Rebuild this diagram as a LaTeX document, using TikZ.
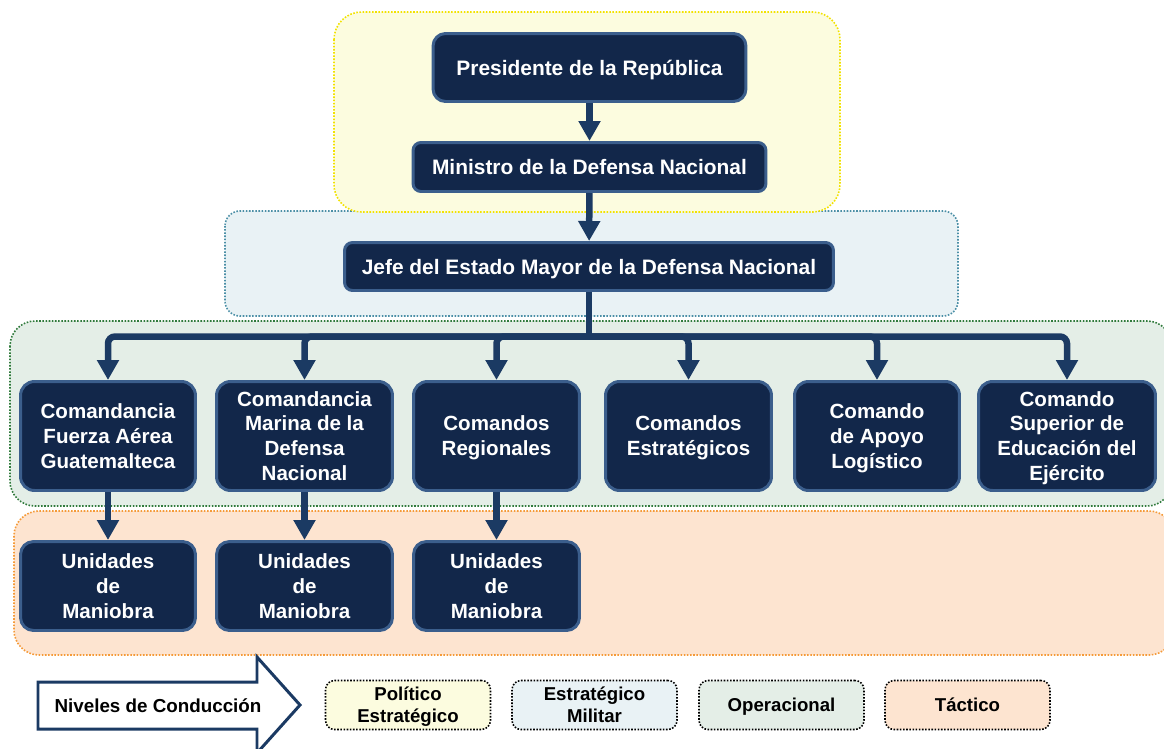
\documentclass[tikz,border=0pt]{standalone}
\usepackage{fontspec}
\setmainfont{Liberation Sans}
\usetikzlibrary{arrows.meta,calc}
\definecolor{navy}{HTML}{12274A}
\definecolor{navyedge}{HTML}{3B5E8C}
\definecolor{conn}{HTML}{1B3A63}
\definecolor{yfill}{HTML}{FCFCDF}
\definecolor{yline}{HTML}{F2E200}
\definecolor{bfill}{HTML}{E9F2F5}
\definecolor{bline}{HTML}{4B8FA6}
\definecolor{gfill}{HTML}{E4EEE7}
\definecolor{gline}{HTML}{2F7A3B}
\definecolor{ofill}{HTML}{FDE4D0}
\definecolor{oline}{HTML}{F59A38}
\begin{document}
\begin{tikzpicture}[x=0.02cm,y=-0.02cm,
  band/.style={line width=0.9pt, dash pattern=on 0.9pt off 0.9pt},
  unit/.style={draw=navyedge, line width=1.7pt, fill=navy, text=white, align=center,
    inner sep=0pt, text depth=0pt, font=\fontsize{11.7}{14.2}\selectfont\bfseries},
  topbox/.style={unit, rounded corners=0.16cm, minimum height=0.98cm,
    font=\fontsize{11.9}{14.2}\selectfont\bfseries},
  cmd/.style={unit, rounded corners=0.28cm, minimum height=2.18cm},
  man/.style={unit, rounded corners=0.26cm, minimum height=1.78cm},
  legbox/.style={draw=black, line width=0.9pt, dash pattern=on 0.9pt off 0.9pt,
    rounded corners=0.18cm, minimum width=3.3cm, minimum height=0.98cm, align=center,
    inner sep=0pt, text depth=0pt, font=\fontsize{10.6}{12.5}\selectfont\bfseries},
  link/.style={draw=conn, line width=0.13cm},
  arr/.style={link, -{Triangle[length=0.4cm,width=0.42cm]}},
]
\clip (0,0) rectangle (1164,748);
% level bands
\draw[band, fill=bfill, draw=bline, rounded corners=0.3cm] (225,211) rectangle (958,316);
\draw[band, fill=yfill, draw=yline, rounded corners=0.55cm] (334,12) rectangle (840,212);
\draw[band, fill=gfill, draw=gline, rounded corners=0.5cm] (10,321) rectangle (1172,506);
\draw[band, fill=ofill, draw=oline, rounded corners=0.5cm] (14,511) rectangle (1174,655);

% hierarchy
\node[topbox, rounded corners=0.25cm, minimum width=6.26cm, minimum height=1.36cm] (pres) at (589.5,67.5) {Presidente de la República};
\node[topbox, minimum width=7.06cm] (mini) at (589.5,167) {Ministro de la Defensa Nacional};
\node[topbox, minimum width=9.78cm, minimum height=0.96cm] (jefe) at (589,266.5) {Jefe del Estado Mayor de la Defensa Nacional};

\node[cmd, minimum width=3.5cm] (r1) at (108,436) {Comandancia\\Fuerza Aérea\\Guatemalteca};
\node[cmd, minimum width=3.52cm] (r2) at (304.5,436) {Comandancia\\Marina de la\\Defensa\\Nacional};
\node[cmd, minimum width=3.32cm] (r3) at (496.5,436) {Comandos\\Regionales};
\node[cmd, minimum width=3.32cm] (r4) at (688.5,436) {Comandos\\Estratégicos};
\node[cmd, minimum width=3.3cm] (r5) at (877,436) {Comando\\de Apoyo\\Logístico};
\node[cmd, minimum width=3.54cm] (r6) at (1067,436) {Comando\\Superior de\\Educación del\\Ejército};

\node[man, minimum width=3.5cm] (u1) at (108,586) {Unidades\\de\\Maniobra};
\node[man, minimum width=3.52cm] (u2) at (304.5,586) {Unidades\\de\\Maniobra};
\node[man, minimum width=3.32cm] (u3) at (496.5,586) {Unidades\\de\\Maniobra};

% connectors
\draw[arr] (pres) -- (mini);
\draw[arr] (mini) -- (jefe);
\coordinate (bus) at (589,336.5);
\draw[link] (jefe.south) -- (bus);
\foreach \n in {r1,r2,r3,r4,r5,r6}
  \draw[arr, rounded corners=4pt] (bus) -| (\n.north);
\draw[arr] (r1) -- (u1);
\draw[arr] (r2) -- (u2);
\draw[arr] (r3) -- (u3);

% legend
\draw[draw=conn, line width=1.7pt, fill=white, line join=miter]
  (38,682) -- (257,682) -- (257,657) -- (300,705) -- (257,753) -- (257,729) -- (38,729) -- cycle;
\node[font=\fontsize{10.7}{13}\selectfont\bfseries, inner sep=0pt, text depth=0pt] (lev) at (158,706) {Niveles de Conducción};
\node[legbox, fill=yfill] (lp) at (408,705) {Político\\Estratégico};
\node[legbox, fill=bfill] (lm) at (594.5,705) {Estratégico\\Militar};
\node[legbox, fill=gfill] (lo) at (781.5,705) {Operacional};
\node[legbox, fill=ofill] (lt) at (967.5,705) {Táctico};
\end{tikzpicture}
\end{document}
